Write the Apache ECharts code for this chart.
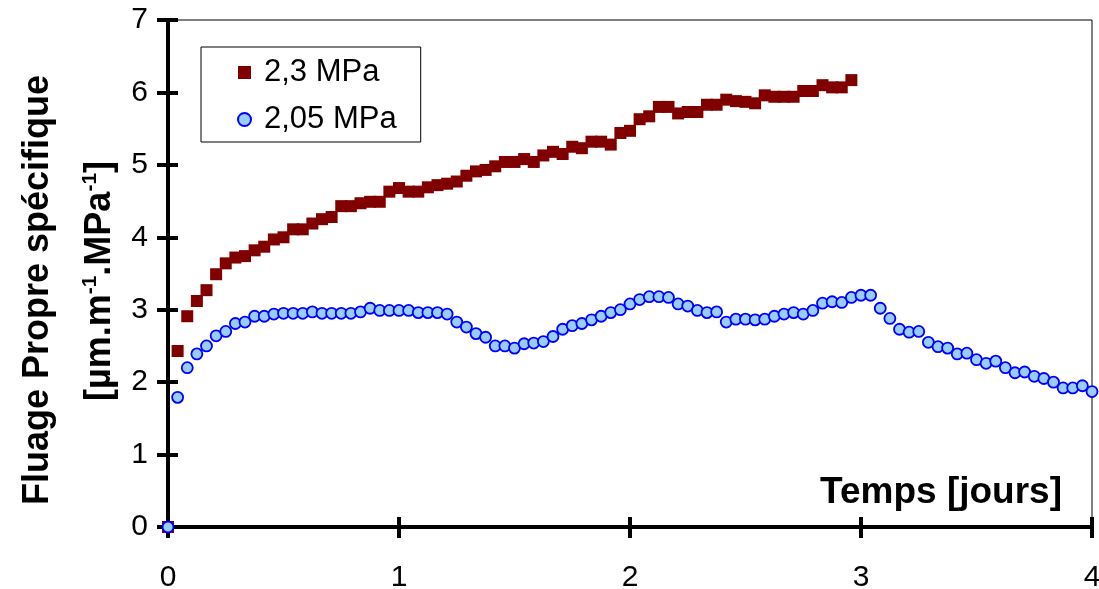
<!DOCTYPE html>
<html><head><meta charset="utf-8">
<script src="https://cdn.jsdelivr.net/npm/echarts@6/dist/echarts.min.js"></script>
<style>html,body{margin:0;padding:0;background:#fff}#c{width:1099px;height:589px}</style>
</head><body><div id="c"></div>
<script>
const xTicks = [0, 1, 2, 3, 4];
const yTicks = [0, 1, 2, 3, 4, 5, 6, 7];
const seriesNames = ['2,3 MPa', '2,05 MPa'];
const hoursRed = [0,1,2,3,4,5,6,7,8,9,10,11,12,13,14,15,16,17,18,19,20,21,22,23,24,25,26,27,28,29,30,31,32,33,34,35,36,37,38,39,40,41,42,43,44,45,46,47,48,49,50,51,52,53,54,55,56,57,58,59,60,61,62,63,64,65,66,67,68,69,70,71];
const valuesRed = [0,2.43,2.91,3.12,3.27,3.49,3.64,3.72,3.74,3.82,3.87,3.97,4.00,4.11,4.11,4.19,4.25,4.28,4.43,4.43,4.47,4.49,4.49,4.63,4.68,
  4.63,4.63,4.69,4.72,4.74,4.77,4.85,4.91,4.93,4.98,5.04,5.04,5.08,5.04,5.13,5.18,5.15,5.25,5.23,5.32,5.32,5.28,5.44,5.47,5.63,
  5.67,5.80,5.80,5.71,5.73,5.73,5.83,5.83,5.90,5.88,5.87,5.85,5.96,5.94,5.94,5.94,6.02,6.02,6.10,6.07,6.07,6.17];
const hoursBlue = [0,1,2,3,4,5,6,7,8,9,10,11,12,13,14,15,16,17,18,19,20,21,22,23,24,25,26,27,28,29,30,31,32,33,34,35,36,37,38,39,40,41,42,43,44,45,46,47,48,49,50,51,52,53,54,55,56,57,58,59,60,61,62,63,64,65,66,67,68,69,70,71,72,73,74,75,76,77,78,79,80,81,82,83,84,85,86,87,88,89,90,91,92,93,94,95,96];
const valuesBlue = [0,
  1.79,2.20,2.39,2.50,2.64,2.70,2.81,2.83,2.91,2.91,2.94,2.95,2.95,2.95,2.97,2.95,2.95,2.95,2.95,2.97,3.02,2.99,2.99,2.99,
  2.99,2.96,2.96,2.96,2.94,2.83,2.76,2.67,2.62,2.50,2.50,2.47,2.53,2.54,2.56,2.63,2.73,2.78,2.81,2.86,2.91,2.96,3.00,3.08,3.14,
  3.18,3.18,3.17,3.08,3.05,2.99,2.96,2.97,2.83,2.87,2.87,2.86,2.87,2.91,2.94,2.96,2.94,2.99,3.09,3.11,3.10,3.17,3.20,3.20,3.02,
  2.88,2.73,2.69,2.70,2.55,2.49,2.47,2.39,2.40,2.31,2.26,2.29,2.20,2.13,2.14,2.08,2.05,2.00,1.92,1.92,1.95,1.87];
const yTitle1 = 'Fluage Propre spécifique';
const xTitle = 'Temps [jours]';

const toPairs = (h, v) => h.map((t, i) => [t / 24, v[i]]);
const FONT = 'Liberation Sans, Arial, sans-serif';
const chart = echarts.init(document.getElementById('c'), null, {renderer: 'canvas'});
const baseY = {
  type: 'value', min: yTicks[0], max: yTicks[yTicks.length - 1], interval: 1,
  splitLine: {show: false}
};
const baseX = {
  type: 'value', min: xTicks[0], max: xTicks[xTicks.length - 1], interval: 1,
  splitLine: {show: false}
};
chart.setOption({
  animation: false,
  backgroundColor: '#fff',
  grid: {left: 168, right: 7, top: 20, bottom: 62, show: true, borderColor: '#000', borderWidth: 1,
         containLabel: false, outerBoundsMode: 'none'},
  xAxis: [
    Object.assign({}, baseX, {
      position: 'bottom',
      axisLine: {show: true, onZero: false, lineStyle: {color: '#000', width: 4}},
      axisTick: {show: true, inside: false, length: 11, lineStyle: {color: '#000', width: 4}},
      axisLabel: {color: '#000', fontSize: 30, fontFamily: FONT, margin: 36}
    }),
    Object.assign({}, baseX, {
      position: 'bottom',
      axisLine: {show: false},
      axisTick: {show: true, inside: true, length: 10, lineStyle: {color: '#000', width: 4}},
      axisLabel: {show: false}
    })
  ],
  yAxis: [
    Object.assign({}, baseY, {
      position: 'left',
      axisLine: {show: true, onZero: false, lineStyle: {color: '#000', width: 4}},
      axisTick: {show: true, inside: false, length: 11, lineStyle: {color: '#000', width: 4}},
      axisLabel: {color: '#000', fontSize: 30, fontFamily: FONT, margin: 20}
    }),
    Object.assign({}, baseY, {
      position: 'left',
      axisLine: {show: false},
      axisTick: {show: true, inside: true, length: 10, lineStyle: {color: '#000', width: 4}},
      axisLabel: {show: false}
    })
  ],
  legend: {
    left: 201, top: 47, orient: 'vertical',
    backgroundColor: '#fff',
    borderColor: '#000', borderWidth: 1,
    padding: [10, 24, 7, 36],
    itemGap: 16, itemWidth: 13, itemHeight: 13,
    textStyle: {fontSize: 31, fontFamily: FONT, color: '#000', lineHeight: 30, padding: [0, 0, 0, 8]},
    data: seriesNames
  },
  series: [
    {
      name: seriesNames[0], type: 'scatter', xAxisIndex: 0, yAxisIndex: 0,
      symbol: 'rect', symbolSize: 12,
      itemStyle: {color: '#800000', borderColor: '#800000', borderWidth: 0, opacity: 1},
      data: toPairs(hoursRed, valuesRed), z: 3
    },
    {
      name: seriesNames[1], type: 'scatter', xAxisIndex: 0, yAxisIndex: 0,
      symbol: 'circle', symbolSize: 11,
      itemStyle: {color: '#99CCFF', borderColor: '#0000FF', borderWidth: 1.8, opacity: 1},
      data: toPairs(hoursBlue, valuesBlue), z: 4
    }
  ],
  graphic: [
    {
      type: 'text', x: 38, y: 290, rotation: Math.PI / 2,
      style: {text: yTitle1, font: 'bold 36px ' + FONT, fill: '#000', align: 'center', verticalAlign: 'middle'}
    },
    {
      type: 'text', x: 100, y: 281, rotation: Math.PI / 2,
      style: {
        text: '[µm.m{s|-1}.MPa{s|-1}]',
        font: 'bold 36px ' + FONT, fill: '#000', align: 'center', verticalAlign: 'middle',
        lineHeight: 40,
        rich: {s: {font: 'bold 21px ' + FONT, fill: '#000', verticalAlign: 'top', lineHeight: 40, padding: [0, 0, 16, 0]}}
      }
    },
    {
      type: 'text', right: 37, top: 474,
      style: {text: xTitle, font: 'bold 37px ' + FONT, fill: '#000'}
    }
  ]
});
</script>
</body></html>
